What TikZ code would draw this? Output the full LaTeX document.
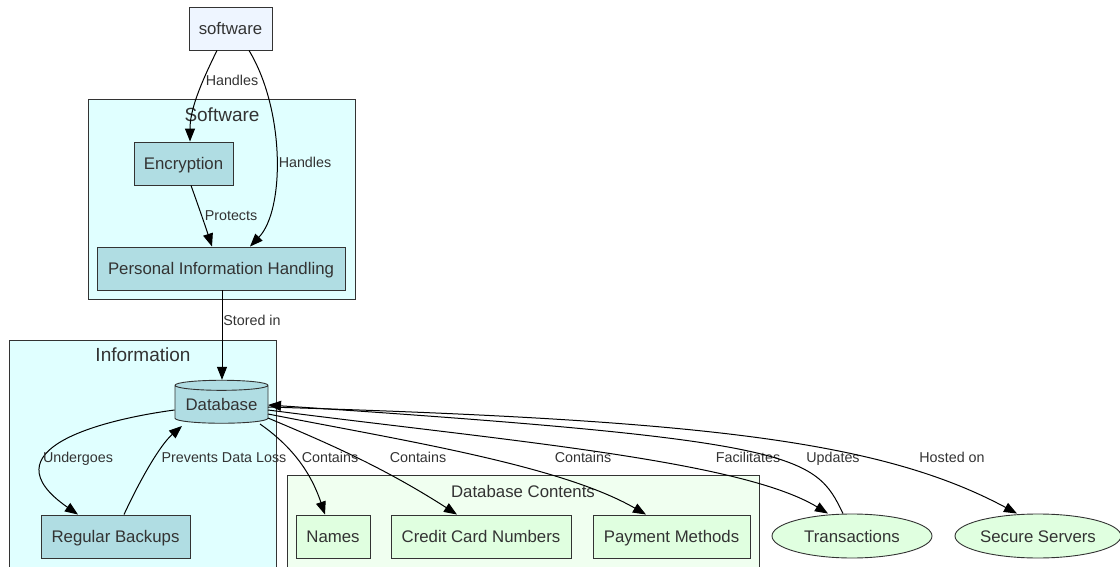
\documentclass[tikz,border=0pt]{standalone}
\usepackage{fontspec}
\setmainfont{Liberation Sans}
\usetikzlibrary{shapes.geometric,arrows.meta}
\definecolor{swfill}{HTML}{EEF5FF}
\definecolor{clcyan}{HTML}{E0FFFF}
\definecolor{pblue}{HTML}{B0DDE3}
\definecolor{clgreen}{HTML}{F0FFF0}
\definecolor{lgreen}{HTML}{E0FFE0}
\definecolor{ink}{HTML}{333333}
\tikzset{
  cluster/.style={draw=ink, line width=0.9pt},
  cltitle/.style={font=\fontsize{19}{22}\selectfont, text=ink, text height=13.5pt, text depth=0pt},
  box/.style={draw=ink, line width=0.9pt, fill=pblue, font=\fontsize{16.8}{20}\selectfont, text=ink,
              inner sep=0pt, text height=12.2pt, text depth=0pt},
  gbox/.style={box, fill=lgreen},
  oval/.style={ellipse, draw=ink, line width=0.9pt, fill=lgreen, font=\fontsize{16.8}{20}\selectfont, text=ink,
               inner sep=0pt, text height=12.2pt, text depth=0pt},
  edge/.style={-{Triangle[length=13pt,width=10pt]}, line width=1pt, black},
  elabel/.style={font=\fontsize{14.3}{17}\selectfont, text=ink, inner sep=1pt, text height=10.3pt, text depth=0pt},
}
\begin{document}
\begin{tikzpicture}[x=1pt,y=-1pt]
\useasboundingbox (0,0) rectangle (1120,567);
% clusters
\draw[cluster, fill=clcyan] (88,99) rectangle (355,299);
\node[cltitle] (tsw) at (222,115) {Software};
\draw[cluster, fill=clcyan] (9,340) rectangle (276,575);
\node[cltitle] (tinfo) at (143,355) {Information};
\draw[cluster, fill=clgreen] (287,475) rectangle (759,575);
\node[cltitle, font=\fontsize{16.8}{20}\selectfont, text height=12.2pt] (tdbc) at (523,491) {Database Contents};
% nodes
\node[box, fill=swfill, minimum width=83pt, minimum height=43pt] (sw) at (230.5,28.5) {software};
\node[box, minimum width=99pt, minimum height=43pt] (enc) at (183.5,163.5) {Encryption};
\node[box, minimum width=248pt, minimum height=43pt] (pih) at (221,268.5) {Personal Information Handling};
\node[cylinder, shape border rotate=90, aspect=0.14, draw=ink, line width=0.9pt, fill=pblue,
      font=\fontsize{16.8}{20}\selectfont, text=ink, inner sep=0pt, text height=12.2pt, text depth=0pt,
      minimum width=93pt, minimum height=43pt] (db) at (221.5,404.5) {Database};
\node[box, minimum width=149pt, minimum height=43pt] (rb) at (115.5,536.5) {Regular Backups};
\node[gbox, minimum width=74pt, minimum height=43pt] (nm) at (333,536.5) {Names};
\node[gbox, minimum width=180pt, minimum height=43pt] (cc) at (481,536.5) {Credit Card Numbers};
\node[gbox, minimum width=157pt, minimum height=43pt] (pm) at (671.5,536.5) {Payment Methods};
\node[oval, minimum width=160pt, minimum height=44pt] (tr) at (852,536) {Transactions};
\node[oval, minimum width=166pt, minimum height=44pt] (ss) at (1038,536) {Secure Servers};
% edges
\draw[edge] (sw.south -| 217,0) .. controls (200,85) and (190,110) .. (enc.north -| 190,0);
\node[elabel] (l1) at (232,80) {Handles};
\draw[edge] (sw.south -| 249,0) .. controls (285,110) and (285,210) .. (pih.north -| 250,0);
\node[elabel] (l2) at (305,162) {Handles};
\draw[edge] (enc.south -| 191,0) .. controls (198,205) and (206,228) .. (pih.north -| 212,0);
\node[elabel] (l3) at (231,215) {Protects};
\draw[edge] (pih.south -| 222,0) -- (db.top -| 222,0);
\node[elabel] (l4) at (252,320) {Stored in};
\draw[edge] (db.west |- 0,410) .. controls (100,420) and (-15,450) .. (rb.north -| 78,0);
\node[elabel] (l5) at (78,457) {Undergoes};
\draw[edge] (rb.north -| 124,0) .. controls (140,480) and (160,445) .. (182,426);
\node[elabel] (l6) at (224,457) {Prevents Data Loss};
\draw[edge] (260,424) .. controls (290,445) and (310,470) .. (nm.north -| 325,0);
\node[elabel] (l7) at (330,457) {Contains};
\draw[edge] (268,418) .. controls (320,440) and (380,465) .. (cc.north -| 457,0);
\node[elabel] (l8) at (418,457) {Contains};
\draw[edge] (268,414) .. controls (400,440) and (560,465) .. (pm.north -| 646,0);
\node[elabel] (l9) at (583,457) {Contains};
\draw[edge] (268,410) .. controls (500,440) and (740,460) .. (tr.north -| 828,0);
\node[elabel] (l10) at (748,457) {Facilitates};
\draw[edge] (tr.north -| 843,0) .. controls (815,455) and (800,440) .. (268,405);
\node[elabel] (l11) at (833,457) {Updates};
\draw[edge] (268,407) .. controls (700,420) and (880,440) .. (ss.north -| 1017,0);
\node[elabel] (l12) at (952,457) {Hosted on};
\end{tikzpicture}
\end{document}
